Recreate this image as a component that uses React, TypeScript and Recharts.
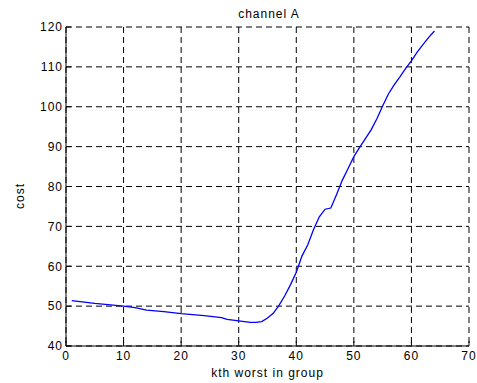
import { LineChart, Line, XAxis, YAxis, CartesianGrid } from 'recharts';

// kth worst in group (x) and cost (y)
const kValues = [
  1, 5, 10, 12, 14, 17, 20, 24, 27, 28, 30, 32, 33, 34, 35, 36, 37, 38, 39, 40, 41, 42,
  43, 44, 45, 46, 47, 48, 49, 50, 51, 52, 53, 54, 55, 56, 57, 58, 59, 60, 61, 62, 63, 64,
];
const costValues = [
  51.4, 50.7, 50.0, 49.6, 49.0, 48.6, 48.1, 47.6, 47.1, 46.7, 46.3, 45.9, 45.9, 46.1, 47.0,
  48.2, 50.2, 52.6, 55.4, 58.5, 62.6, 65.4, 69.2, 72.4, 74.3, 74.6, 78.0, 81.6, 84.5, 87.5,
  89.8, 92.0, 94.2, 97.0, 100.2, 103.2, 105.5, 107.5, 109.6, 111.5, 113.7, 115.6, 117.4, 119.0,
];
const xTicks = [0, 10, 20, 30, 40, 50, 60, 70];
const yTicks = [40, 50, 60, 70, 80, 90, 100, 110, 120];

const data = kValues.map((k, i) => ({ k, cost: costValues[i] }));

const tickStyle = { fill: '#000', fontSize: 12 };
const blank = () => '';

export default function App() {
  return (
    <div
      style={{
        position: 'absolute',
        left: 0,
        top: 0,
        width: 477,
        height: 383,
        background: '#fff',
        fontFamily: '"Liberation Sans", Arial, sans-serif',
        letterSpacing: 1,
      }}
    >
      <div
        style={{
          position: 'absolute',
          left: 169,
          top: 6,
          width: 200,
          lineHeight: '16px',
          fontSize: 12,
          textAlign: 'center',
          color: '#000',
        }}
      >
        channel A
      </div>
      <div
        style={{
          position: 'absolute',
          left: 20,
          top: 196,
          fontSize: 12,
          color: '#000',
          transform: 'translate(-50%, -50%) rotate(-90deg)',
          whiteSpace: 'nowrap',
        }}
      >
        cost
      </div>
      <LineChart
        width={477}
        height={383}
        data={data}
        margin={{ top: 27, right: 8, left: 0, bottom: 0 }}
      >
        <CartesianGrid stroke="#000" strokeDasharray="6 4" />
        <XAxis
          dataKey="k"
          type="number"
          domain={[0, 70]}
          ticks={xTicks}
          interval={0}
          height={37}
          stroke="#000"
          tick={tickStyle}
          tickSize={-5}
          tickMargin={10}
          label={{ value: 'kth worst in group', position: 'insideBottom', offset: 6, fill: '#000', fontSize: 12 }}
        />
        <XAxis
          xAxisId="top"
          dataKey="k"
          type="number"
          orientation="top"
          domain={[0, 70]}
          ticks={xTicks}
          interval={0}
          height={0}
          stroke="#000"
          tickSize={-5}
          tickFormatter={blank}
        />
        <YAxis
          type="number"
          domain={[40, 120]}
          ticks={yTicks}
          interval={0}
          width={66}
          stroke="#000"
          tick={tickStyle}
          tickSize={-5}
          tickMargin={8}
        />
        <YAxis
          yAxisId="right"
          orientation="right"
          type="number"
          domain={[40, 120]}
          ticks={yTicks}
          interval={0}
          width={0}
          stroke="#000"
          tickSize={-5}
          tickFormatter={blank}
        />
        <Line
          type="linear"
          dataKey="cost"
          stroke="#0000ff"
          strokeWidth={1.3}
          dot={false}
          isAnimationActive={false}
        />
      </LineChart>
    </div>
  );
}
